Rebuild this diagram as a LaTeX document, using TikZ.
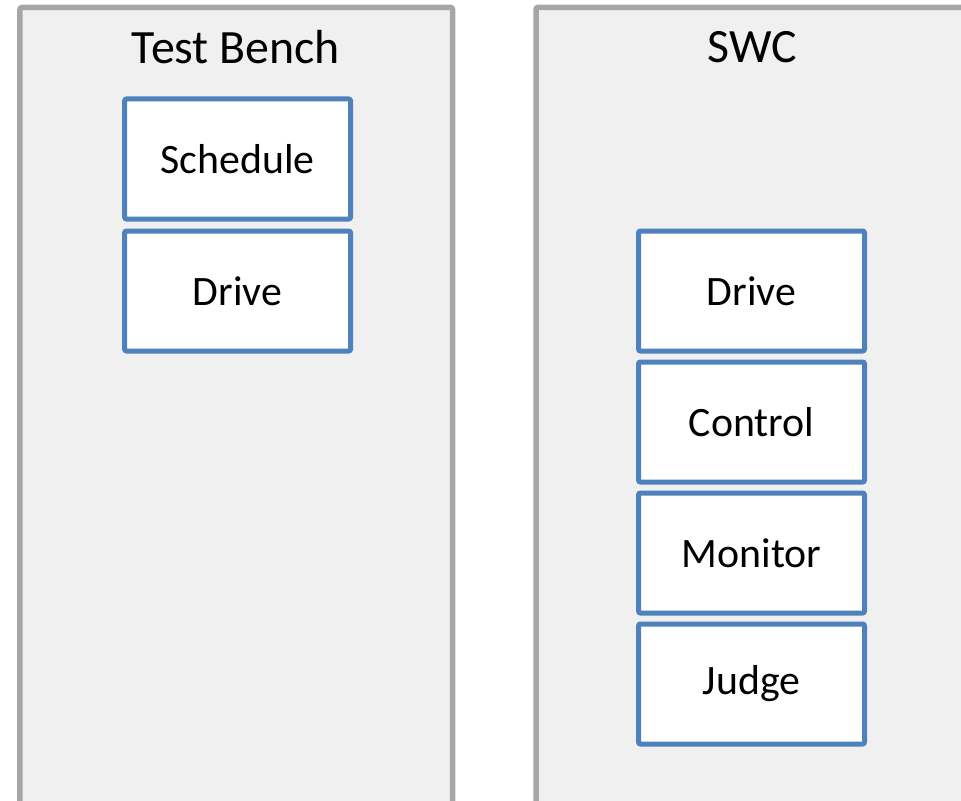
\documentclass[tikz,border=0pt]{standalone}
\usepackage{fontspec}
\setmainfont{Carlito}
\definecolor{panelfill}{HTML}{F0F0F0}
\definecolor{paneledge}{HTML}{A6A6A6}
\definecolor{boxedge}{HTML}{4F81BD}
\begin{document}
\begin{tikzpicture}[x=1bp,y=-1bp,
  panel/.style={draw=paneledge,fill=panelfill,line width=5.5bp,rounded corners=2bp,
    rectangle,inner sep=0pt},
  title/.style={font=\fontsize{48}{56}\selectfont,inner sep=0pt},
  unit/.style={draw=boxedge,fill=white,line width=5bp,rounded corners=2bp,rectangle,
    minimum width=226bp,minimum height=120bp,inner sep=0pt,
    font=\fontsize{42}{50}\selectfont}]
  \useasboundingbox (0,0) rectangle (961,801);
  \fill[white] (0,0) rectangle (961,801);
  \clip (0,0) rectangle (961,801);
  % the two enclosing panels, running past the lower edge
  \node[panel,minimum width=432.5bp,minimum height=840bp] (bench) at (236.25,427.5) {};
  \node[panel,minimum width=433bp,minimum height=840bp] (swc) at (752.5,427.5) {};
  \node[title] (benchtitle) at (236,47) {Test Bench};
  \node[title] (swctitle) at (752,47) {SWC};
  % test bench units
  \node[unit] (schedule) at (237.6,159) {Schedule};
  \node[unit] (tbdrive) at (237.6,291) {Drive};
  % software component units
  \node[unit] (drive) at (751.5,291) {Drive};
  \node[unit] (control) at (751.5,422) {Control};
  \node[unit] (monitor) at (751.5,553) {Monitor};
  \node[unit] (judge) at (751.5,684) {Judge};
\end{tikzpicture}
\end{document}
